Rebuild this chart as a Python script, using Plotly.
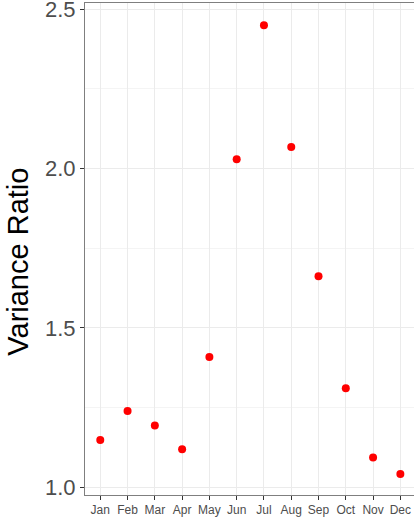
import plotly.graph_objects as go

months = ["Jan", "Feb", "Mar", "Apr", "May", "Jun", "Jul", "Aug", "Sep", "Oct", "Nov", "Dec"]
variance_ratio = [1.148, 1.239, 1.193, 1.119, 1.408, 2.029, 2.450, 2.068, 1.662, 1.310, 1.093, 1.041]
y_ticks = [1.0, 1.5, 2.0, 2.5]
y_tick_text = ["1.0", "1.5", "2.0", "2.5"]
y_title = "Variance Ratio"

fig = go.Figure(
    go.Scatter(
        x=months,
        y=variance_ratio,
        mode="markers",
        marker=dict(color="#ff0000", size=8),
        showlegend=False,
    )
)

fig.update_layout(
    width=414,
    height=520,
    margin=dict(l=85, r=0, t=3, b=25),
    paper_bgcolor="white",
    plot_bgcolor="white",
    font=dict(family="Liberation Sans, Arial, sans-serif", color="#4d4d4d"),
)

# rotated y-axis title beside the panel
fig.add_annotation(
    text=y_title,
    xref="paper",
    yref="paper",
    x=-0.204,
    y=0.474,
    xanchor="center",
    yanchor="middle",
    textangle=-90,
    showarrow=False,
    font=dict(size=29, color="#000000"),
)

fig.update_xaxes(
    type="category",
    range=[-0.56, 11.5],
    automargin=False,
    showgrid=True,
    gridcolor="#ebebeb",
    gridwidth=1,
    showline=True,
    linecolor="#7f7f7f",
    linewidth=1,
    mirror=True,
    ticks="outside",
    ticklen=4,
    tickcolor="#333333",
    tickfont=dict(size=12, color="#4d4d4d"),
    zeroline=False,
)

fig.update_yaxes(
    range=[0.975, 2.52],
    automargin=False,
    tickvals=y_ticks,
    ticktext=y_tick_text,
    showgrid=True,
    gridcolor="#ebebeb",
    gridwidth=1,
    minor=dict(dtick=0.25, tick0=0, showgrid=True, gridcolor="#f4f4f4", gridwidth=1),
    showline=True,
    linecolor="#7f7f7f",
    linewidth=1,
    mirror=False,
    ticks="outside",
    ticklen=4,
    tickcolor="#333333",
    tickfont=dict(size=22, color="#4d4d4d"),
    ticklabeloverflow="allow",
    zeroline=False,
)

fig.write_html("out.html")
